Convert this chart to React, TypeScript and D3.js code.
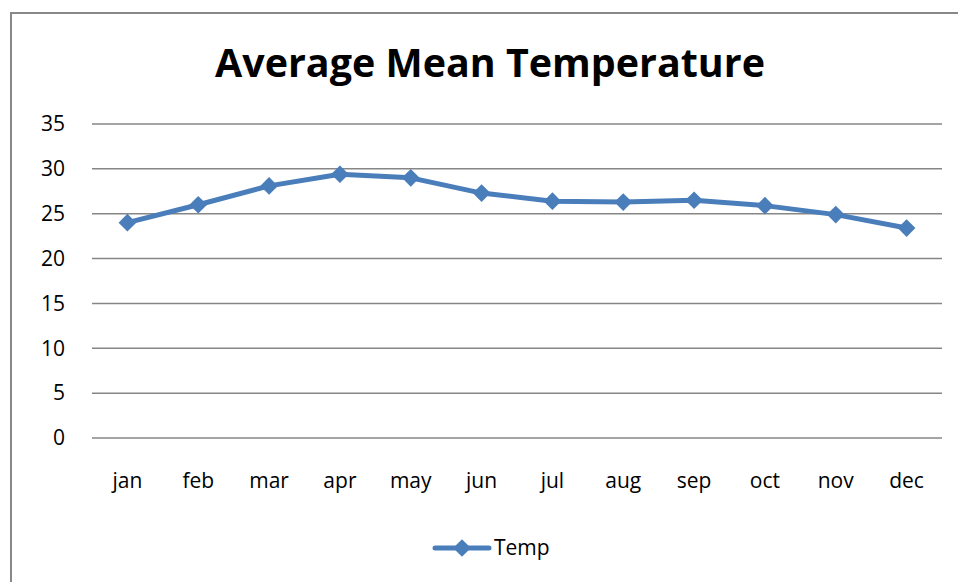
import { useRef, useEffect } from "react";
import * as d3 from "d3";

const months = ["jan", "feb", "mar", "apr", "may", "jun", "jul", "aug", "sep", "oct", "nov", "dec"];
const temps = [24.0, 26.0, 28.1, 29.4, 29.0, 27.3, 26.4, 26.3, 26.5, 25.9, 24.9, 23.4];
const yTicks = [0, 5, 10, 15, 20, 25, 30, 35];
const seriesName = "Temp";
const title = "Average Mean Temperature";

const W = 958;
const H = 582;
const FONT = "'Open Sans', Lato, sans-serif";
const BLUE = "#4a7ebb";

function App() {
  const svgRef = useRef<SVGSVGElement>(null);

  useEffect(() => {
    const svg = d3.select(svgRef.current);
    svg.selectAll("*").remove();

    const left = 92;
    const right = 942;
    const top = 124;
    const bottom = 438;

    const x = d3.scaleBand().domain(months).range([left, right]);
    const y = d3.scaleLinear().domain([0, 35]).range([bottom, top]);

    svg.append("rect").attr("width", W).attr("height", H).attr("fill", "#fff");

    // chart border (right/bottom edges fall outside the picture)
    svg
      .append("rect")
      .attr("x", 11)
      .attr("y", 13)
      .attr("width", W + 20)
      .attr("height", H + 20)
      .attr("fill", "none")
      .attr("stroke", "#888")
      .attr("stroke-width", 2);

    svg
      .append("text")
      .attr("x", 490)
      .attr("y", 77)
      .attr("text-anchor", "middle")
      .attr("textLength", 550)
      .attr("lengthAdjust", "spacingAndGlyphs")
      .style("font", `bold 40px ${FONT}`)
      .text(title);

    svg
      .append("g")
      .selectAll("line")
      .data(yTicks)
      .join("line")
      .attr("x1", left)
      .attr("x2", right)
      .attr("y1", (d) => y(d))
      .attr("y2", (d) => y(d))
      .attr("stroke", "#868686")
      .attr("stroke-width", 1.5);

    svg
      .append("g")
      .selectAll("text")
      .data(yTicks)
      .join("text")
      .attr("x", 65)
      .attr("y", (d) => y(d))
      .attr("dy", "0.35em")
      .attr("text-anchor", "end")
      .style("font", `21px ${FONT}`)
      .text((d) => d);

    svg
      .append("g")
      .selectAll("text")
      .data(months)
      .join("text")
      .attr("x", (d) => x(d)! + x.bandwidth() / 2)
      .attr("y", 488)
      .attr("text-anchor", "middle")
      .style("font", `21px ${FONT}`)
      .text((d) => d);

    const line = d3
      .line<number>()
      .x((_, i) => x(months[i])! + x.bandwidth() / 2)
      .y((d) => y(d));

    svg
      .append("path")
      .datum(temps)
      .attr("d", line)
      .attr("fill", "none")
      .attr("stroke", BLUE)
      .attr("stroke-width", 5)
      .attr("stroke-linejoin", "round");

    const diamond = d3.symbol().type(d3.symbolDiamond2).size(200);

    svg
      .append("g")
      .selectAll("path")
      .data(temps)
      .join("path")
      .attr("transform", (d, i) => `translate(${x(months[i])! + x.bandwidth() / 2},${y(d)})`)
      .attr("d", diamond)
      .attr("fill", BLUE);

    // legend
    const lg = svg.append("g").attr("transform", "translate(435,548)");
    lg.append("line")
      .attr("x1", 0)
      .attr("x2", 54)
      .attr("stroke", BLUE)
      .attr("stroke-width", 5)
      .attr("stroke-linecap", "round");
    lg.append("path").attr("transform", "translate(27,0)").attr("d", diamond).attr("fill", BLUE);
    lg.append("text")
      .attr("x", 59)
      .attr("dy", "0.35em")
      .style("font", `21px ${FONT}`)
      .text(seriesName);
  }, []);

  return (
    <svg
      ref={svgRef}
      width={W}
      height={H}
      style={{ position: "fixed", top: 0, left: 0, display: "block" }}
    ></svg>
  );
}

export default App;
